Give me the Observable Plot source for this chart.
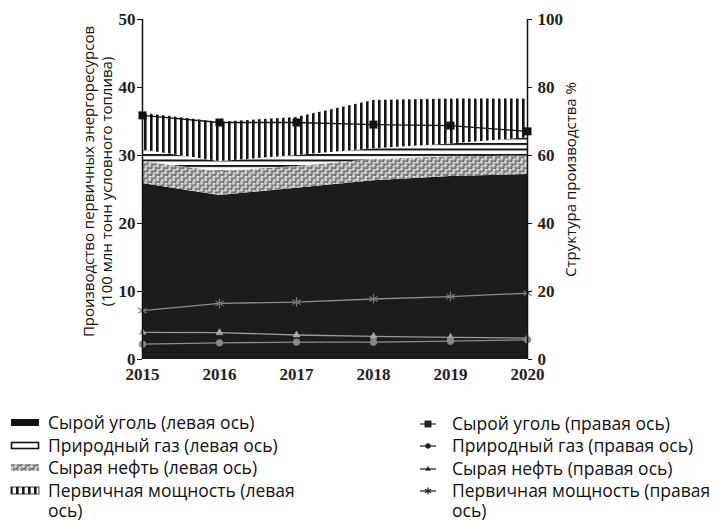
<!DOCTYPE html>
<html>
<head>
<meta charset="utf-8">
<script src="https://cdn.jsdelivr.net/npm/d3@7"></script>
<script src="https://cdn.jsdelivr.net/npm/@observablehq/plot@0.6"></script>
<style>
  html, body { margin: 0; padding: 0; background: #fff; }
  #wrap { position: relative; width: 721px; height: 521px; overflow: hidden; }
  .legend { position: absolute; font-family: "Open Sans", sans-serif; font-size: 17.5px; color: #111; }
  .row { position: relative; height: 22.5px; line-height: 22.5px; white-space: nowrap; }
  .row svg { position: absolute; left: 0; top: 5px; }
  .row .t { position: absolute; top: 0; }
</style>
</head>
<body>
<div id="wrap"></div>
<script>
// ---- data ----
const years = [2015, 2016, 2017, 2018, 2019, 2020];
// left axis: production, 100 million t of standard fuel (stacked)
const coal    = [25.9, 24.1, 25.2, 26.3, 26.9, 27.2];
const oil     = [3.2, 3.5, 3.2, 3.1, 2.9, 2.7];
const gas     = [1.7, 1.5, 1.6, 1.6, 1.9, 2.7];
const primary = [5.4, 5.8, 5.6, 7.1, 6.6, 5.7];
// right axis: structure of production, %
const coalPct    = [71.8, 69.7, 69.7, 69.1, 68.8, 67.1];
const gasPct     = [4.5, 4.9, 5.1, 5.1, 5.4, 5.8];
const oilPct     = [8.0, 7.9, 7.2, 6.8, 6.5, 6.3];
const primaryPct = [14.4, 16.5, 16.9, 17.8, 18.5, 19.5];
const leftTicks  = [0, 10, 20, 30, 40, 50];
const rightTicks = [0, 20, 40, 60, 80, 100];

const areaNames = ["Сырой уголь", "Сырая нефть", "Природный газ", "Первичная мощность"];
const areaSeries = [coal, oil, gas, primary];
const areaFills = ["#1c1c1c", "url(#pOil)", "url(#pGas)", "url(#pPrim)"];
const stackTable = [];
areaSeries.forEach((s, k) => s.forEach((v, i) => stackTable.push({year: years[i], series: areaNames[k], value: v})));

const ratio = 50 / 100; // right axis -> left scale
const lineDefs = [
  {vals: primaryPct, stroke: "#8c8c8c", symbol: "asterisk", r: 4.5, fill: "none", ms: "#777"},
  {vals: oilPct, stroke: "#9a9a9a", symbol: "triangle", r: 2.6, fill: "#aaa", ms: "none"},
  {vals: gasPct, stroke: "#8c8c8c", symbol: "circle", r: 3.4, fill: "#888", ms: "none"},
  {vals: coalPct, stroke: "#111", symbol: "square", r: 4.2, fill: "#111", ms: "none"}
];

const serif = "'Liberation Serif', 'DejaVu Serif', serif";
const W = 721, H = 392;
const marks = [
  Plot.areaY(stackTable, {x: "year", y: "value", z: "series", fill: "series", order: areaNames, curve: "linear"}),
];
for (const L of lineDefs) {
  const tbl = L.vals.map((v, i) => ({year: years[i], y: v * ratio}));
  marks.push(Plot.line(tbl, {x: "year", y: "y", stroke: L.stroke, strokeWidth: 1.3}));
  marks.push(Plot.dot(tbl, {x: "year", y: "y", symbol: () => L.symbol, r: L.r, fill: L.fill, stroke: L.ms === "none" ? L.fill : L.ms, strokeWidth: L.symbol === "asterisk" ? 1.2 : 0.5}));
}
marks.push(
  Plot.ruleX([years[0]], {y1: leftTicks[0], y2: leftTicks[leftTicks.length - 1], stroke: "#111", strokeWidth: 1.5}),
  Plot.ruleX([years[years.length - 1]], {y1: leftTicks[0], y2: leftTicks[leftTicks.length - 1], stroke: "#111", strokeWidth: 1.5}),
  Plot.axisY(leftTicks, {anchor: "left", tickSize: 5, tickPadding: 2, label: null, fontSize: 17, fontWeight: "bold", fontFamily: serif, fill: "#222", stroke: "#111"}),
  Plot.axisY(rightTicks.map(v => v * ratio), {anchor: "right", tickSize: 4, tickPadding: 6, tickFormat: d => Math.round(d / ratio), label: null, fontSize: 17, fontWeight: "bold", fontFamily: serif, fill: "#222", stroke: "#111"}),
  Plot.axisX(years, {anchor: "bottom", tickSize: 0, tickPadding: 8, tickFormat: d => String(d), label: null, fontSize: 17, fontWeight: "bold", fontFamily: serif, fill: "#222"}),
  Plot.text(["Производство первичных энергоресурсов\n(100 млн тонн условного топлива)"], {frameAnchor: "left", textAnchor: "middle", dx: -45, dy: -8, rotate: -90, lineHeight: 1.2, fontSize: 15, fontFamily: "'Open Sans', sans-serif", fill: "#111"}),
  Plot.text(["Структура производства %"], {frameAnchor: "right", textAnchor: "middle", dx: 44, dy: -10, rotate: -90, fontSize: 15, fontFamily: "'Open Sans', sans-serif", fill: "#111"})
);

const chart = Plot.plot({
  width: W, height: H,
  marginLeft: 142, marginRight: 194, marginTop: 19, marginBottom: H - 359,
  x: {domain: [years[0], years[years.length - 1]], axis: null},
  y: {domain: [leftTicks[0], leftTicks[leftTicks.length - 1]], axis: null},
  color: {domain: areaNames, range: areaFills},
  style: {background: "white", overflow: "visible"},
  marks
});

// pattern definitions
const svg = d3.select(chart);
const defs = svg.insert("defs", ":first-child");
const g1 = defs.append("radialGradient").attr("id", "ball").attr("cx", "0.38").attr("cy", "0.35").attr("r", "0.65");
g1.append("stop").attr("offset", "0%").attr("stop-color", "#f4f4f4");
g1.append("stop").attr("offset", "50%").attr("stop-color", "#a0a0a0");
g1.append("stop").attr("offset", "100%").attr("stop-color", "#5e5e5e");
const pO = defs.append("pattern").attr("id", "pOil").attr("patternUnits", "userSpaceOnUse").attr("width", 8).attr("height", 7);
pO.append("rect").attr("width", 8).attr("height", 7).attr("fill", "#ececec");
[[2, 1.75], [6, 5.25], [10, 1.75], [-2, 5.25], [2, 8.75], [-2, -1.75], [6, -1.75]].forEach(([cx, cy]) =>
  pO.append("circle").attr("cx", cx).attr("cy", cy).attr("r", 2.8).attr("fill", "url(#ball)"));
const pG = defs.append("pattern").attr("id", "pGas").attr("patternUnits", "userSpaceOnUse").attr("width", 8).attr("height", 5.5);
pG.append("rect").attr("width", 8).attr("height", 5.5).attr("fill", "#fff");
pG.append("rect").attr("y", 0).attr("width", 8).attr("height", 2).attr("fill", "#151515");
const pP = defs.append("pattern").attr("id", "pPrim").attr("patternUnits", "userSpaceOnUse").attr("width", 6).attr("height", 8);
pP.append("rect").attr("width", 6).attr("height", 8).attr("fill", "#fff");
pP.append("rect").attr("x", 0).attr("width", 2.6).attr("height", 8).attr("fill", "#151515");

const wrap = document.getElementById("wrap");
wrap.appendChild(chart);

// legend
const leftLegend = [
  {sw: "coal", text: "Сырой уголь (левая ось)"},
  {sw: "gas", text: "Природный газ (левая ось)"},
  {sw: "oil", text: "Сырая нефть (левая ось)"},
  {sw: "prim", text: "Первичная мощность (левая<br>ось)"}
];
const rightLegend = [
  {sw: "square", text: "Сырой уголь (правая ось)"},
  {sw: "circle", text: "Природный газ (правая ось)"},
  {sw: "triangle", text: "Сырая нефть (правая ось)"},
  {sw: "asterisk", text: "Первичная мощность (правая<br>ось)"}
];
function swatch(kind) {
  const s = d3.create("svg").attr("width", 32).attr("height", 12);
  if (kind === "coal") s.append("rect").attr("x", 1).attr("y", 2).attr("width", 28).attr("height", 7).attr("fill", "#111");
  if (kind === "gas") { s.append("rect").attr("x", 1.5).attr("y", 2.5).attr("width", 27).attr("height", 6).attr("fill", "#fff").attr("stroke", "#111").attr("stroke-width", 1.6); }
  if (kind === "oil") { s.append("rect").attr("x", 1).attr("y", 2).attr("width", 28).attr("height", 7).attr("fill", "url(#pOil)"); }
  if (kind === "prim") { s.append("rect").attr("x", 1).attr("y", 2).attr("width", 28).attr("height", 7).attr("fill", "url(#pPrim)").attr("stroke", "#111").attr("stroke-width", 0.8); }
  if (["square", "circle", "triangle", "asterisk"].includes(kind)) {
    s.append("line").attr("x1", 2).attr("x2", 18).attr("y1", 6).attr("y2", 6).attr("stroke", "#222").attr("stroke-width", 1.2);
    const sym = {square: d3.symbolSquare, circle: d3.symbolCircle, triangle: d3.symbolTriangle, asterisk: d3.symbolAsterisk}[kind];
    const size = {square: 42, circle: 20, triangle: 10, asterisk: 36}[kind];
    s.append("path").attr("d", d3.symbol(sym, size)()).attr("transform", "translate(10,6)")
      .attr("fill", kind === "asterisk" ? "none" : "#222").attr("stroke", "#222").attr("stroke-width", kind === "asterisk" ? 1.2 : 0.4);
  }
  return s.node();
}
function buildLegend(items, left, top, textX) {
  const div = document.createElement("div");
  div.className = "legend";
  div.style.left = left + "px"; div.style.top = top + "px";
  items.forEach(it => {
    const row = document.createElement("div");
    row.className = "row";
    row.appendChild(swatch(it.sw));
    const t = document.createElement("span");
    t.className = "t"; t.style.left = textX + "px"; t.innerHTML = it.text;
    t.style.lineHeight = "20px";
    row.appendChild(t);
    div.appendChild(row);
  });
  wrap.appendChild(div);
}
buildLegend(leftLegend, 10, 412, 38);
buildLegend(rightLegend, 418, 412.5, 34);
</script>
</body>
</html>
